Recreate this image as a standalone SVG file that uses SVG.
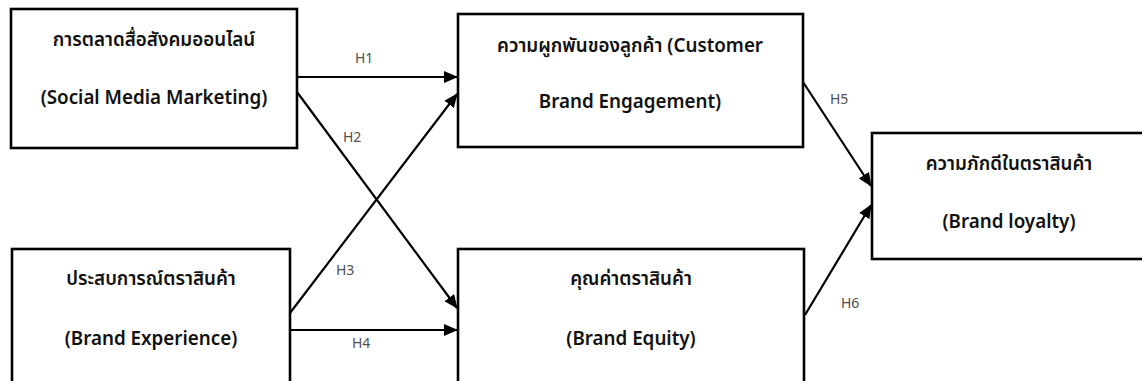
<svg xmlns="http://www.w3.org/2000/svg" width="1142" height="381" viewBox="0 0 1142 381">
  <style>
    .box { fill: #ffffff; stroke: #000000; stroke-width: 2.6; }
    .title { font-family: "Noto Sans", "Noto Sans Thai", "Liberation Sans", sans-serif; font-size: 18.8px; font-weight: 600; fill: #111111; text-anchor: middle; }
    .link { fill: none; stroke: #000000; stroke-width: 2.2; marker-end: url(#arrow); }
    .hyp { font-family: "Noto Sans", "Liberation Sans", sans-serif; font-size: 14px; fill: #505050; }
  </style>
  <defs>
    <marker id="arrow" markerUnits="userSpaceOnUse" markerWidth="14" markerHeight="12" refX="13" refY="6" orient="auto">
      <path d="M0,0 L14,6 L0,12 Z" fill="#000000"/>
    </marker>
  </defs>
  <rect width="1142" height="381" fill="#ffffff"/>

  <!-- connectors -->
  <g id="connectors">
    <line class="link" x1="297" y1="77" x2="457" y2="77"/>
    <line class="link" x1="297" y1="92" x2="457" y2="308"/>
    <line class="link" x1="290" y1="313" x2="457" y2="94"/>
    <line class="link" x1="290" y1="330" x2="457" y2="330"/>
    <line class="link" x1="803" y1="82" x2="871" y2="186"/>
    <line class="link" x1="805" y1="315" x2="871" y2="205"/>
    <text class="hyp" x="355" y="63">H1</text>
    <text class="hyp" x="343" y="142">H2</text>
    <text class="hyp" x="336" y="275">H3</text>
    <text class="hyp" x="352" y="348">H4</text>
    <text class="hyp" x="830" y="104">H5</text>
    <text class="hyp" x="841" y="308">H6</text>
  </g>

  <g id="social-media-marketing">
    <rect class="box" x="11" y="9" width="286" height="139"/>
    <text class="title" x="154" y="46">การตลาดสื่อสังคมออนไลน์</text>
    <text class="title" x="154" y="104">(Social Media Marketing)</text>
  </g>

  <g id="customer-brand-engagement">
    <rect class="box" x="458" y="14" width="345" height="133"/>
    <text class="title" x="630" y="52">ความผูกพันของลูกค้า (Customer</text>
    <text class="title" x="630" y="108">Brand Engagement)</text>
  </g>

  <g id="brand-loyalty">
    <rect class="box" x="872" y="133" width="274" height="126"/>
    <text class="title" x="1009" y="170">ความภักดีในตราสินค้า</text>
    <text class="title" x="1009" y="228">(Brand loyalty)</text>
  </g>

  <g id="brand-experience">
    <rect class="box" x="12" y="249" width="278" height="140"/>
    <text class="title" x="151" y="285">ประสบการณ์ตราสินค้า</text>
    <text class="title" x="151" y="345">(Brand Experience)</text>
  </g>

  <g id="brand-equity">
    <rect class="box" x="458" y="249" width="346" height="140"/>
    <text class="title" x="631" y="285">คุณค่าตราสินค้า</text>
    <text class="title" x="631" y="345">(Brand Equity)</text>
  </g>
</svg>
